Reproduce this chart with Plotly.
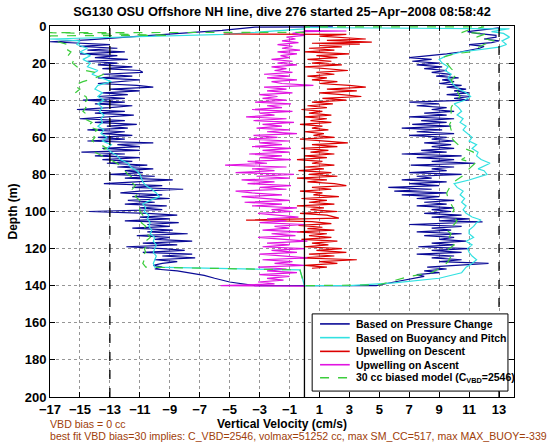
import plotly.graph_objects as go

# ---------------- data (depth m, vertical velocity cm/s) ----------------
blue_profile = [
(0.5,1.9),(0.6,-3.3),(2.4,-5.5),(5,-10),(7.5,-14.5),(8.5,-17),(10,-13),(11,-15),(12,-12.5),(13,-14.5),(14,-12),(15,-15),(16,-12.5),(17,-14),(18,-11.8),(19,-14.5),(20,-12.5),(21,-13.8),(22,-11.5),(23,-13.5),(24,-11),(25,-10.8),(26,-13.5),(27,-11.5),(28,-13.8),(29,-11),(30,-12.5),(31,-13.8),(32,-11.2),(33,-10.1),(34,-13),(35,-11),(36,-13.5),(37,-11.8),(38,-13.8),(39,-12),(40,-14.8),(41,-12),(42,-14),(43,-11.5),(44,-13),(45,-15.2),(46,-12),(47,-14),(48,-11.4),(49,-13.5),(50,-15),(51,-12),(52,-14),(53,-11.2),(54,-13.2),(55,-11.8),(56,-14.5),(57,-12),(58,-13.5),(59,-11.5),(60,-13.8),(61,-12),(62,-14.5),(63,-10.1),(64,-12.5),(65,-11),(66,-13.5),(67,-11),(68,-14.9),(69,-12),(70,-14),(71,-11),(72,-13.5),(73,-11.5),(74,-13.2),(75,-10.5),(76,-12.5),(77,-10.1),(78,-12),(79,-10.8),(80,-13),(81,-10),(82,-12),(83,-8.8),(84,-11.5),(85,-13.4),(86,-9.5),(87,-11.5),(88,-8.1),(89,-11),(90,-12.3),(91,-9.5),(92,-11.5),(93,-9),(94,-11.8),(95,-10),(96,-12),(97,-9.2),(98,-11),(99,-9.5),(100,-14.4),(101,-10.5),(102,-8.5),(103,-11),(104,-9),(105,-12),(106,-8.4),(107,-10.5),(108,-9),(109,-11.5),(110,-8.8),(111,-10.5),(112,-7.8),(113,-11.2),(114,-9),(115,-10),(116,-7.5),(117,-10.8),(118,-8.5),(119,-11.9),(120,-9.5),(121,-8),(122,-10.8),(123,-7.5),(124,-9.5),(125,-7.3),(126,-10),(127,-8.5),(128,-9.5),(129,-10.1),(130,-9.5),(131,-10),(132,-8.5),(134.4,-6.7),(136,-6),(138,-5),(140,-3.3),
(140,4.8),(138,6),(136.5,7),(135,8),(134,7.5),(133,9),(132,8),(131,9.5),(130,8.2),(129,10),(128,12.3),(127,9),(126,10.5),(125,8.5),(124,10),(123,7.5),(122,10.5),(121,8.5),(120,11),(119,7.6),(118,10),(117,8.5),(116,10.8),(115,9),(114,10),(113,8),(112,10.5),(111,7.5),(110,9.8),(109,8.5),(108,10.5),(107,7),(106,10),(105.6,11.9),(105,9),(104,11),(103,8.5),(102,10.5),(101,8),(100,9.8),(99,8.5),(98,10),(97,7.5),(96,9.5),(95,8),(94,10),(93,7.5),(92,9),(91,6.5),(90,9.5),(89,6),(88,8.5),(87,5.6),(86,9),(85,7),(84,9.5),(83,6.5),(82,8.5),(81,7.5),(80,10.5),(79,7),(78,9.5),(77,8.5),(76,10),(75,7.1),(74,11.4),(73,8.5),(72,10),(71,7.5),(70,10.5),(69,6.5),(68,9.5),(67,7.8),(66,10),(65,8.5),(64,9.8),(63,8),(62,10),(61,8.5),(60,9.5),(59,7),(58,10),(57,7.5),(56,9.2),(55,6.5),(54,9.8),(53,7.2),(52,9.5),(51,7.8),(50,10),(49,7),(48,9.5),(47,8),(46,10),(45,8.5),(44,9.5),(43,7.5),(42,9),(41,7),(40,11),(39,10),(38,11.1),(37,9.5),(36,11),(35,10),(34,10.8),(33,9.5),(32,10.5),(31,9),(30,10),(29,9.2),(28,10.3),(27,8.8),(26,9.8),(25,8.5),(24,9.5),(23,8),(22,9.2),(21,7.5),(20,9),(19,7.2),(18,8.5),(17,7),(16,8.5),(15,9.5),(14,10.4),(13,11),(12,11.7),(11,12),(10,11),(9,12.5),(8,13),(7,12),(6,12.8),(5,12.8),(4,11.5),(3,10.9),(2,12),(1,13),
]

cyan_profile = [
(1.6,0),(4.5,-5.3),(7,-17),(8,-15),(10,-15.2),(12,-14.5),(14,-15),(16,-14.3),(18,-14.8),(20,-14.3),(22,-14.5),(24,-13.8),(26,-14.2),(28,-13.6),(30,-12.9),(32,-13.8),(34,-14),(36,-13.5),(38,-13.8),(40,-13.4),(42,-13.8),(44,-13.5),(46,-13.7),(48,-13.4),(50,-13.6),(52,-13.5),(54,-13.8),(56,-13.4),(58,-13.6),(60,-13.2),(62,-13.5),(64,-12.9),(66,-13.2),(68,-12.9),(70,-12.5),(72,-12.3),(74,-11.8),(76,-11.6),(78,-11.2),(80,-11),(82,-10.9),(84,-10.8),(86,-10.6),(88,-10.2),(90,-9.9),(92,-9.7),(94,-10.3),(96,-10.8),(98,-10.6),(100,-10.7),(102,-10.4),(104,-10.5),(106,-10.3),(108,-10.4),(110,-10.2),(112,-10.3),(114,-10),(116,-10.1),(118,-9.9),(120,-10),(122,-10.1),(124,-9.9),(126,-10),(128,-10.1),(130,-10),(131.5,-0.3),(140,0),
(140,3),(138.5,6),(136,9),(133,10.5),(130,10.8),(128,11.2),(126,11.5),(124,11.2),(122,11),(120,10.9),(118,11.2),(116,10.8),(114,11.3),(112,11),(110,11),(108,11.3),(106,11.5),(104.6,11.8),(103,11.2),(101,10.8),(99,10.6),(97,10.8),(95,10.5),(93,10.7),(91,10.4),(89,10.6),(87,10.2),(85,10),(83,11),(80,12.2),(78,12),(77,11.6),(74,12.4),(72,11.8),(70,11.5),(68,11.6),(66,11.2),(64,11.5),(62,11),(60,11.2),(58,10.9),(56,10.6),(54,10.8),(52,10.4),(50,10.6),(48,10.2),(46,10.5),(44,10.3),(42,10),(40,10.7),(38,11.1),(36,10.8),(34,10.3),(32,10),(30,9.8),(28,9.6),(26,9.8),(24,9.4),(22,9.6),(20,9.2),(18,9),(16,9.5),(14,10.5),(12.5,12),(11.4,13),(10,13.5),(8,13.2),(6,13.7),(4,13.3),(3,12.5),(1.5,13.7),(0.8,0),
]

red_profile = [
(4.3,-5.4),(4.3,0),(4.5,2.8),(5.5,1),(7,4.1),(7.8,1.5),(8.7,4.5),(9.3,0.5),(9.8,3.7),(10.5,1),(11.2,2.5),(12,0.3),(13,2),(14,0),(15,3),(16,0.8),(17,2.2),(18,0.2),(19,1.8),(20,0.5),(21,2.5),(22,0),(23,1.5),(24,2.9),(25,0.8),(26,2),(27,0.2),(28,1.5),(29,0.5),(30,2.2),(31,1),(32,3),(33,4.1),(34,1.5),(35,3.5),(36,1),(37,2.5),(38,3.8),(39,1.2),(40,2.8),(41,0.5),(42,1.9),(43,0.2),(44,1.5),(45,-0.2),(46,1.2),(47,0.3),(48,1.8),(49,0),(50,1.5),(51,0.4),(52,1.8),(53,-0.3),(54,1.2),(55,0.5),(56,1.6),(57,0),(58,1.3),(59,0.6),(60,2),(61,-0.3),(62,1.5),(63,2.9),(64,0.5),(65,2.2),(66,-0.2),(67,1.6),(68,0.4),(69,2),(70,0),(71,1.5),(72,-0.5),(73,1.2),(74,0.5),(75,2),(76,0),(77,1.3),(78,-0.4),(79,1.8),(80,0.3),(81,2.2),(82,-0.5),(83,1.5),(84,0.2),(85,2),(86,2.8),(87,0.5),(88,1.8),(89,-0.3),(90,1.2),(91,0.6),(92,2.3),(93,-0.2),(94,1.5),(95,0.3),(96,2),(97,-0.5),(98,1.3),(99,0.4),(100,2.2),(101,-0.3),(102,1.5),(103.6,2.3),(104.6,-3.9),(105.5,0.5),(106.5,1.8),(107.5,-0.4),(108.5,1.2),(109.2,0.2),(110,2),(111,-0.5),(112,1.5),(113,0.3),(114,1.8),(115,-0.2),(116,2.2),(117,0.5),(118,1.6),(119,0),(120,2.5),(121,0.8),(122,2.8),(123,0.3),(124,2),(125,-0.3),(126,3.5),(127,1),(128,2.2),(129,0),(130,1.5),(130.6,0.5),
]

magenta_profile = [
(140.2,0),(140,-5.6),(139,-2),(138,-3.1),(137,-1.4),(136,-2.5),(135,-1),(134,-3),(133,-0.5),(132,-2.5),(131,-1.2),(130,-3.1),(129,0),(128,-2),(127,-0.8),(126,-2.8),(125,0.2),(124,-1.5),(123,-3),(122,-0.5),(121,-2.2),(120,0),(119,-2.8),(118,-1),(117,-2.5),(116,0.2),(115,-1.8),(114,-3.1),(113,-0.6),(112,-2.2),(111,-0.3),(110,-2.8),(109,-1),(108,-2),(107,0),(106,-3),(105,-1.2),(104,-2.5),(103,-0.4),(102,-2),(101,-3.1),(100,-0.8),(99,-2.2),(98,-0.5),(97,-3.5),(96,-1.5),(95,-4),(94,-1),(93,-3),(92,-4.2),(91,-1.5),(90,-3.5),(89,-4.6),(88,-1.2),(87,-3),(86,-0.9),(85,-3.8),(84,-2),(83,-4.2),(82,-1),(81,-3.2),(80,-0.7),(79,-4.6),(78,-2),(77,-3.5),(76,-1.2),(75,-5.3),(74,-2.5),(73,-3.8),(72,-0.9),(71,-3),(70,-1.5),(69,-3.7),(68,-1),(67,-2.8),(66,-0.9),(65,-3.5),(64,-1.5),(63,-3),(62,-1),(61,-3.7),(60,-1.8),(59,-3.4),(58,-0.5),(57,-2.5),(56,-1),(55,-3.2),(54,-1.5),(53,-2.8),(52,-0.7),(51,-3.4),(50,-1.2),(49,-3.9),(48,-2),(47,-3),(46,-0.8),(45,-3.5),(44,-1.5),(43,-2.5),(42,-0.9),(41,-3.3),(40,-1.2),(39,-2.8),(38,-1.8),(37,-3),(36,-0.8),(35,-2.5),(34,-1.2),(33,-2.7),(32,0.6),(31,-1.5),(30,-2.2),(29,-0.5),(28,-2.5),(27,-1),(26,-2.7),(25,-0.8),(24,-2),(23,-1.2),(22,-2.2),(21,-0.5),(20,-1.8),(19,-0.8),(18,-2.2),(17,-1),(16,-1.6),(15,-0.5),(14,-1.8),(13,-0.3),(12,-1.5),(11,-0.8),(10,-1.8),(9,-0.4),(8,-1.5),(7,-0.6),(6,-1.2),(5,0),(4,-0.8),(3,0),(2.7,2.8),(2.5,0),
]

green_profile = [
(3.4,0),(3.6,-17),(5,-9),(5.3,-17),(8,-16.7),(10,-15.8),(12,-16),(14,-15.6),(16,-15.8),(18,-15.4),(20,-15.5),(22,-15.2),(24,-14.6),(26,-13.4),(28,-14),(30,-14.8),(32,-15.4),(34,-15),(36,-15.3),(38,-14.6),(40,-14.5),(42,-14.9),(44,-14.6),(46,-14.8),(48,-14.5),(50,-14.7),(52,-14.2),(54,-14.5),(56,-13.8),(58,-14.3),(60,-14),(62,-14.2),(64,-13.6),(66,-13.2),(68,-14),(70,-13.5),(72,-12.9),(74,-12.5),(76,-12.3),(78,-12),(80,-11.8),(82,-11.4),(84,-11.6),(86,-11.3),(88,-11.5),(90,-11.1),(92,-11.3),(94,-11),(96,-11.2),(98,-11),(100,-11),(102,-10.8),(104,-10.6),(106,-10.9),(108,-10.6),(110,-10.8),(112,-10.5),(114,-10.3),(116,-10.6),(118,-10.4),(120,-10.7),(122,-10.6),(124,-10.9),(126,-10.7),(128,-10.8),(130,-10.6),(131.5,-0.3),(140,0),
(139.5,5),(135,7),(133,8.5),(130,9.2),(127,9.6),(124,9.8),(121,9.5),(118,10),(115,9.6),(112,9.8),(110,9.5),(107,10),(105,10.2),(102,9.8),(99,10),(96,9.8),(93,9.6),(90,9.5),(87,9.7),(84,10),(80,10.7),(77,11),(74,11.4),(72,10.5),(68,11.3),(65,10.4),(62,10),(59,9.7),(56,9.8),(53,9.7),(50,9.9),(47,9.8),(44,9.8),(41,10),(38,10.4),(35,10.2),(32,10),(29,9.8),(26,10.2),(23,9.8),(20,9.5),(17,9.2),(15,10),(14,11.1),(12,11.5),(10,12),(8,12.7),(6,11.5),(4,12.2),(3.6,10.5),(2,11),(0.5,12),(0.5,0),
]

x_ticks = [-17, -15, -13, -11, -9, -7, -5, -3, -1, 1, 3, 5, 7, 9, 11, 13]
y_ticks = [0, 20, 40, 60, 80, 100, 120, 140, 160, 180, 200]
ref_lines = [-13, 13]

series = [
    ("Based on Pressure Change", blue_profile, "rgb(10,10,150)", "solid"),
    ("Based on Buoyancy and Pitch", cyan_profile, "rgb(50,225,225)", "solid"),
    ("Upwelling on Descent", red_profile, "rgb(220,0,0)", "solid"),
    ("Upwelling on Ascent", magenta_profile, "rgb(225,20,225)", "solid"),
    ("30 cc biased model (C<sub>VBD</sub>=2546)", green_profile, "rgb(60,205,60)", "dash"),
]

FONT = "Liberation Sans, Arial, sans-serif"
fig = go.Figure()
for name, prof, color, dash in series:
    fig.add_trace(go.Scatter(
        x=[p[1] for p in prof], y=[p[0] for p in prof], mode="lines", name=name,
        line=dict(color=color, width=1.2, dash=dash), showlegend=False,
    ))

shapes = [dict(type="line", xref="x", yref="paper", x0=0, x1=0, y0=0, y1=1,
               line=dict(color="black", width=1.3))]
for v in ref_lines:
    shapes.append(dict(type="line", xref="x", yref="paper", x0=v, x1=v, y0=0, y1=1,
                       line=dict(color="black", width=1.3, dash="dash")))

# ---- compact legend box (MATLAB style) in paper coordinates ----
LX0, LX1, LY0, LY1 = 0.565, 0.987, 0.016, 0.224
shapes.append(dict(type="rect", xref="paper", yref="paper", x0=LX0, x1=LX1, y0=LY0, y1=LY1,
                   fillcolor="white", line=dict(color="black", width=1)))
annotations = []
row_y = [0.197, 0.160, 0.123, 0.087, 0.052]
for (name, prof, color, dash), ry in zip(series, row_y):
    shapes.append(dict(type="line", xref="paper", yref="paper", x0=0.582, x1=0.646, y0=ry, y1=ry,
                       line=dict(color=color, width=1.6, dash=dash)))
    annotations.append(dict(text=name, xref="paper", yref="paper", x=0.655, y=ry,
                            xanchor="left", yanchor="middle", showarrow=False,
                            font=dict(family=FONT, size=10.5, color="black", weight="bold")))

bold = dict(family=FONT, size=12, color="black", weight="bold")
tickbold = dict(family=FONT, size=13, color="black", weight="bold")
brown = "rgb(160,64,10)"

annotations += [
    dict(text="VBD bias = 0 cc", xref="paper", yref="paper", x=-0.004, y=-27 / 371,
         xanchor="left", yanchor="middle", showarrow=False,
         font=dict(family=FONT, size=10.6, color=brown)),
    dict(text="best fit VBD bias=30 implies: C_VBD=2546, volmax=51252 cc, max SM_CC=517, max MAX_BUOY=-339",
         xref="paper", yref="paper", x=-0.004, y=-39 / 371,
         xanchor="left", yanchor="middle", showarrow=False,
         font=dict(family=FONT, size=10.6, color=brown)),
]

fig.update_layout(
    width=560, height=442,
    margin=dict(l=45, r=46, t=26, b=45),
    paper_bgcolor="white", plot_bgcolor="white",
    font=dict(family=FONT, size=12, color="black"),
    title=dict(text="SG130 OSU Offshore NH line, dive 276 started 25\u2212Apr\u22122008 08:58:42",
               x=0.5, xref="paper", xanchor="center", y=1 - 12 / 442, yanchor="middle",
               font=dict(family=FONT, size=12.8, color="black", weight="bold")),
    shapes=shapes,
    annotations=annotations,
    showlegend=False,
)

fig.update_xaxes(
    range=[-17, 14], tickvals=x_ticks,
    ticktext=[(("\u2212" + str(-t)) if t < 0 else str(t)) for t in x_ticks],
    tickfont=tickbold, ticks="inside", ticklen=5, tickcolor="black",
    showline=True, linecolor="black", linewidth=1, mirror="ticks",
    showgrid=True, gridcolor="rgb(150,150,150)", griddash="dot", gridwidth=1,
    zeroline=False,
    title=dict(text="Vertical Velocity (cm/s)", font=bold, standoff=1),
)
fig.update_yaxes(
    range=[200, 0], tickvals=y_ticks,
    tickfont=tickbold, ticks="inside", ticklen=5, tickcolor="black",
    showline=True, linecolor="black", linewidth=1, mirror="ticks",
    showgrid=True, gridcolor="rgb(150,150,150)", griddash="dot", gridwidth=1,
    zeroline=False,
    title=dict(text="Depth (m)", font=bold, standoff=4),
)

fig.write_html("out.html", config={"displayModeBar": False},
               post_script="document.body.style.margin='0px';")
